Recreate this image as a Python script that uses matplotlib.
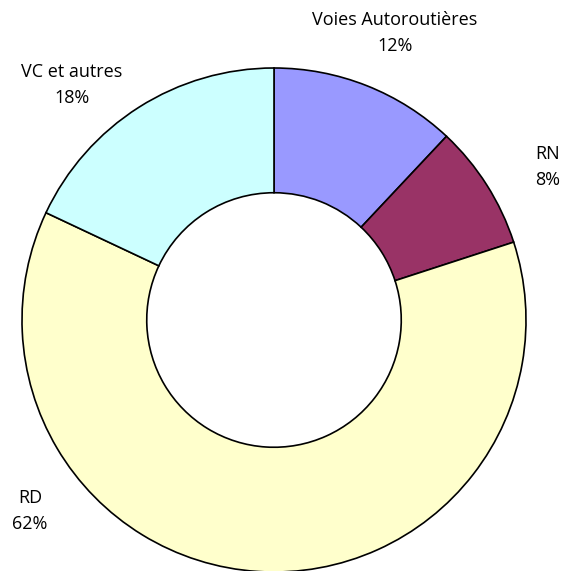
import matplotlib.pyplot as plt

# data
categories = ['Voies Autoroutières', 'RN', 'RD', 'VC et autres']
shares = [12, 8, 62, 18]
colors = ['#9999FF', '#993366', '#FFFFCC', '#CCFFFF']

W, H = 565, 571
fig = plt.figure(figsize=(W / 100, H / 100), dpi=100)
ax = fig.add_axes([0, 0, 1, 1])

cx, cy, r = 274, H - 320, 252
ax.pie(shares, colors=colors, startangle=90, counterclock=False,
       center=(cx, cy), radius=r, frame=True,
       wedgeprops=dict(width=r * 0.495, edgecolor='black', linewidth=1.2))
ax.set_xlim(0, W)
ax.set_ylim(0, H)
ax.set_aspect('equal')
ax.axis('off')

# label positions (pixels from top-left)
label_pos = [(395, 33), (548, 167), (30, 511), (72, 85)]
for name, val, (px, py) in zip(categories, shares, label_pos):
    ax.text(px, H - py, f'{name}\n{val}%', ha='center', va='center',
            fontsize=13, family='Open Sans', linespacing=1.55)

fig.savefig('out.png', dpi=100)
